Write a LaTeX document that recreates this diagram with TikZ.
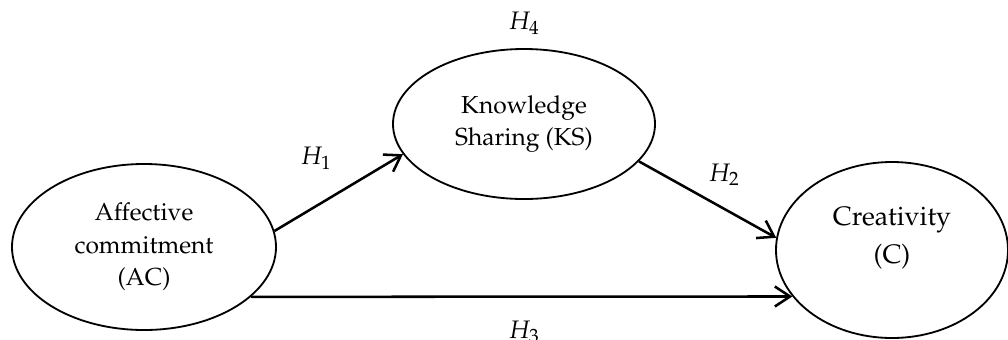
\documentclass[tikz,border=0pt]{standalone}
\usepackage[T1]{fontenc}
\usepackage{mathpazo}
\usetikzlibrary{arrows.meta,shapes}
\tikzset{
    construct/.style = {draw, ellipse, line width=1.3pt, inner sep=0pt,
        align=center, font=\fontsize{17.5}{23}\selectfont},
    arrow/.style = {draw, line width=1.8pt, -{Straight Barb[length=3.8mm,width=5mm,line width=1.8pt]}},
    hyp/.style = {font=\fontsize{18}{20}\selectfont}
}

\begin{document}
\begin{tikzpicture}
                \useasboundingbox (0,0) rectangle (25.2,-8.475);
                \node[construct,minimum width=6.6cm,minimum height=4.15cm] (AC) at (3.6,-6.175) {Affective\\commitment\\(AC)};
                \node[construct,minimum width=6.55cm,minimum height=3.75cm] (KS) at (13.1,-3.1) {Knowledge\\Sharing (KS)};
                \node[construct,minimum width=5.8cm,minimum height=4.4cm,font=\fontsize{19}{27}\selectfont] (C) at (22.3,-6.25) {Creativity\\(C)\\[-6pt]};
                \draw [arrow] (AC.7) -- (KS.194);
                \draw [arrow] (KS.-18) -- (C.174);
                \draw [arrow] (AC.-25.5) -- (C.205.6);
                \node[hyp] (h1) at (7.9,-3.95) {$H_1$};
                \node[hyp] (h2) at (18.1,-4.375) {$H_2$};
                \node[hyp,anchor=base] (h3) at (13.1,-8.45) {$H_3$};
                \node[hyp] (h4) at (13.1,-0.575) {$H_4$};
            \end{tikzpicture}
\end{document}
